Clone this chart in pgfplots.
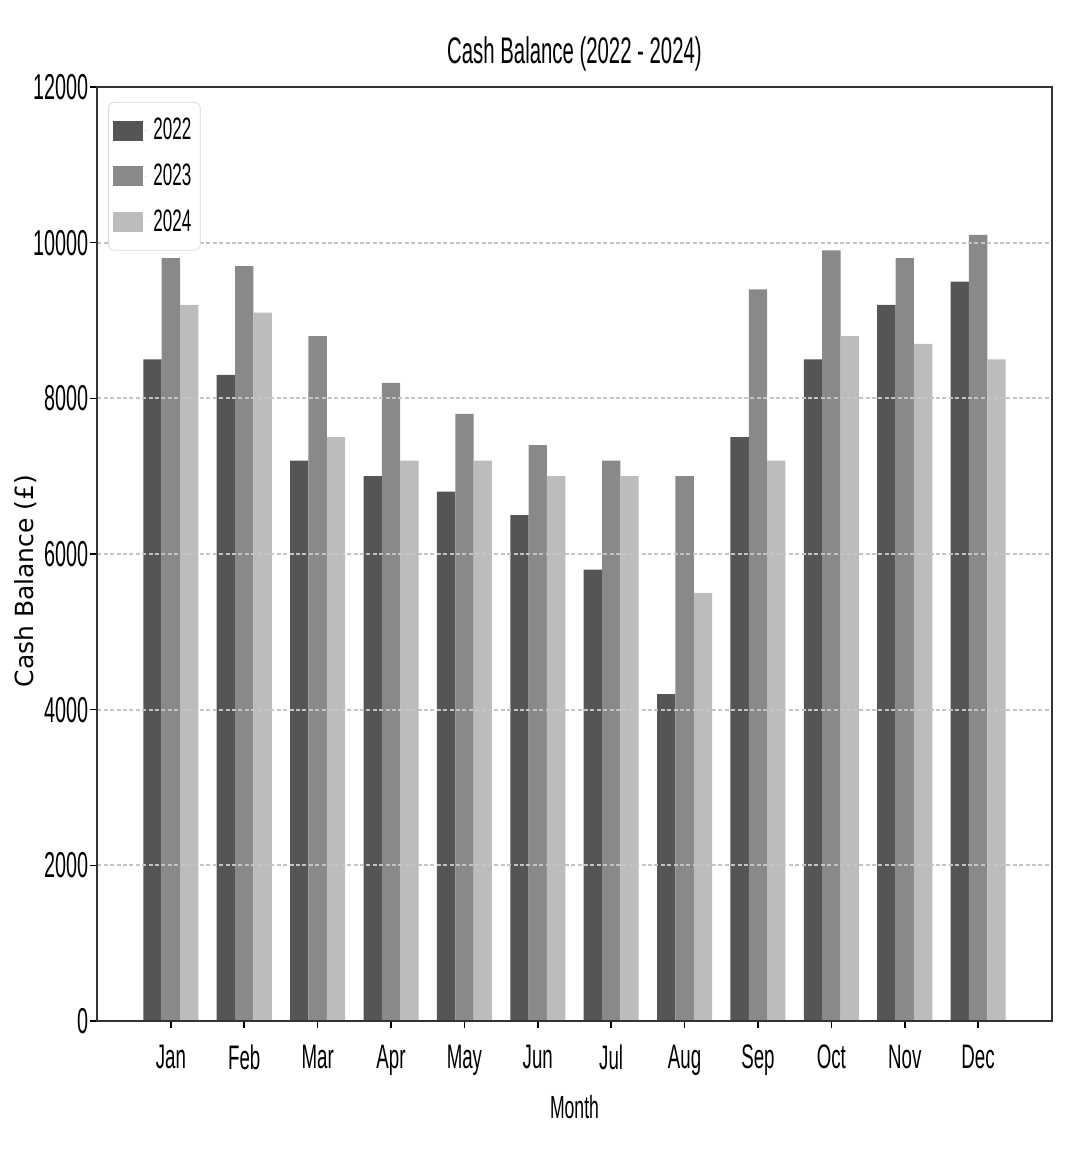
\documentclass[border=0pt]{standalone}
\usepackage{fontspec}
\setmainfont{Liberation Sans}[FakeStretch=0.55]
\newfontfamily\ylabfont{DejaVu Sans}
\usepackage{pgfplots}
\usepackage{pgfplotstable}
\pgfplotsset{compat=1.18}
\definecolor{cA}{HTML}{555555}
\definecolor{cB}{HTML}{898989}
\definecolor{cC}{HTML}{BCBCBC}
\definecolor{gridc}{HTML}{C4C4C4}
\pgfplotstableread{
x a b c
0 8500 9800 9200
1 8300 9700 9100
2 7200 8800 7500
3 7000 8200 7200
4 6800 7800 7200
5 6500 7400 7000
6 5800 7200 7000
7 4200 7000 5500
8 7500 9400 7200
9 8500 9900 8800
10 9200 9800 8700
11 9500 10100 8500
}\data
\begin{document}
\begin{tikzpicture}
\path[use as bounding box] (-48.75pt,-70pt) rectangle (485.25pt,510.5pt);
\begin{axis}[
  at={(0,0)}, anchor=south west,
  width=477pt, height=467pt, scale only axis,
  xmin=-1, xmax=12, ymin=0, ymax=12000,
  ytick={0,2000,...,12000},
  xtick={0,...,11},
  xticklabels={Jan,Feb,Mar,Apr,May,Jun,Jul,Aug,Sep,Oct,Nov,Dec},
  /pgf/number format/assume math mode=true,
  /pgf/number format/1000 sep={},
  scaled y ticks=false,
  ybar, bar width=0.25,
  ymajorgrids,
  grid style={dash pattern=on 2pt off 1.2pt, gridc, line width=1.1pt},
  axis on top,
  axis line style={black!80, line width=1pt},
  tick align=outside, tick pos=left, major tick length=3.5pt,
  tick style={black, line width=0.8pt},
  yticklabel style={font=\fontsize{18}{18}\selectfont, inner sep=1pt},
  xticklabel style={font=\fontsize{17}{17}\selectfont, yshift=-5pt},
  title={Cash Balance (2022 - 2024)},
  title style={font=\fontsize{18.5}{18.5}\selectfont, at={(axis description cs:0.5,1.0375)}, anchor=center, yshift=-7pt},
  xlabel={Month},
  xlabel style={font=\fontsize{16}{16}\selectfont, at={(axis description cs:0.5,-0.092)}, anchor=center},
  ylabel={Cash Balance (£)},
  ylabel style={font=\ylabfont\fontsize{12.5}{12.5}\selectfont, at={(axis description cs:-0.075,0.471)}, anchor=center, rotate=0},
  legend image code/.code={\fill[#1, sharp corners] (0pt,-5pt) rectangle (15pt,5pt); \path (0pt,0pt) -- (18pt,0pt);},
  legend cell align=left,
  legend style={at={(axis description cs:0.011,0.984)}, anchor=north west,
    draw=black!15, rounded corners=3pt, fill=white,
    font=\fontsize{15.5}{15.5}\selectfont, row sep=6.5pt, inner xsep=2.5pt, inner ysep=6pt},
]
\addplot[fill=cA, draw=none, bar shift=-0.25] table[x=x, y=a] {\data};
\addlegendentry{2022}
\addplot[fill=cB, draw=none, bar shift=0] table[x=x, y=b] {\data};
\addlegendentry{2023}
\addplot[fill=cC, draw=none, bar shift=0.25] table[x=x, y=c] {\data};
\addlegendentry{2024}
\end{axis}
\end{tikzpicture}
\end{document}
